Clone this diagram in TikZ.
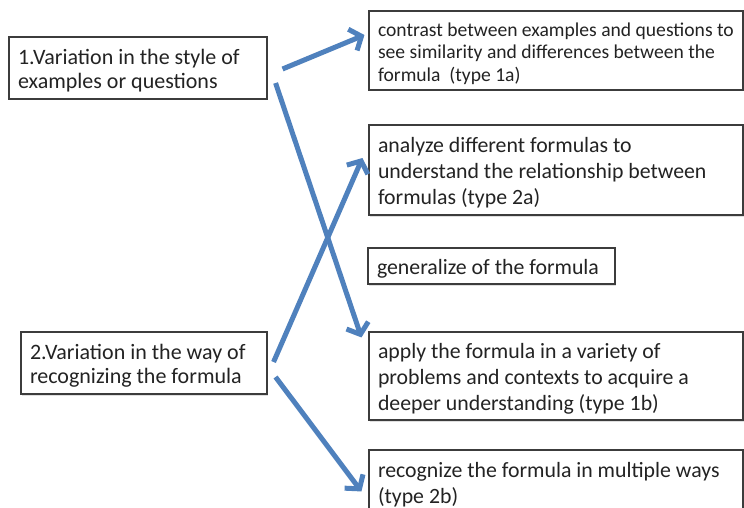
\documentclass[tikz,border=0pt]{standalone}
\usepackage{fontspec}
\setmainfont{Carlito}
\usetikzlibrary{arrows.meta,calc,shadows}
\definecolor{arrowblue}{RGB}{79,129,189}
\definecolor{boxline}{RGB}{60,60,60}
\definecolor{ink}{RGB}{35,35,35}
% ragged text block, set a little below the box centre
\newcommand{\boxtext}[2]{\raisebox{-3pt}[\height][\depth]{\parbox{#1}{\raggedright #2}}}
\tikzset{
  box/.style={draw=boxline, line width=1.1pt, fill=white, rectangle,
    inner xsep=9pt, inner ysep=0pt, text=ink,
    drop shadow={shadow xshift=1.2pt, shadow yshift=-1.5pt, opacity=0.25}},
  link/.style={draw=arrowblue, line width=5pt,
    -{Straight Barb[length=9.5pt, width=23pt, line width=5pt]}},
  bigtext/.style={font=\fontsize{21.8}{26}\selectfont},
  midtext/.style={font=\fontsize{22}{24}\selectfont},
  smalltext/.style={font=\fontsize{19.6}{22.5}\selectfont}
}
\begin{document}
\begin{tikzpicture}[x=1pt, y=-1pt]
  \path[use as bounding box, fill=white] (0,0) rectangle (744,508);
  \clip (0,0) rectangle (744,508);

  % left-hand variation boxes
  \node[box, midtext, minimum width=258pt, minimum height=62pt] (b1) at (138,68)
    {\boxtext{240pt}{1.Variation in the style of\\examples or questions}};
  \node[box, midtext, minimum width=246pt, minimum height=62pt] (b2) at (144,363)
    {\boxtext{228pt}{2.Variation in the way of\\recognizing the formula}};

  % right-hand outcome boxes
  \node[box, smalltext, minimum width=374pt, minimum height=79pt] (r1) at (556,50.5)
    {\boxtext{356pt}{contrast between examples and questions to\\see similarity and differences between the\\formula~ (type 1a)}};
  \node[box, bigtext, minimum width=374pt, minimum height=90pt] (r2) at (556,170)
    {\boxtext{356pt}{analyze different formulas to\\understand the relationship between\\formulas (type 2a)}};
  \node[box, bigtext, minimum width=247pt, minimum height=36pt] (r3) at (491.5,266)
    {\boxtext{229pt}{generalize of the formula}};
  \node[box, bigtext, minimum width=374pt, minimum height=88pt] (r4) at (556,376)
    {\boxtext{356pt}{apply the formula in a variety of\\problems and contexts to acquire a\\deeper understanding (type 1b)}};
  \node[box, bigtext, minimum width=374pt, minimum height=64pt] (r5) at (556,482)
    {\boxtext{356pt}{recognize the formula in multiple ways\\(type 2b)}};

  % connectors
  \draw[link] ($(b1.east)+(15,1)$) -- ($(r1.west)+(-4,-15.5)$);
  \draw[link] ($(b1.east)+(8,15)$) -- ($(r4.north west)+(-7,6)$);
  \draw[link] ($(b2.east)+(6,-1)$) -- ($(r2.west)+(-6,-12)$);
  \draw[link] ($(b2.east)+(8,14)$) -- ($(r5.north west)+(-7,42)$);
\end{tikzpicture}
\end{document}
